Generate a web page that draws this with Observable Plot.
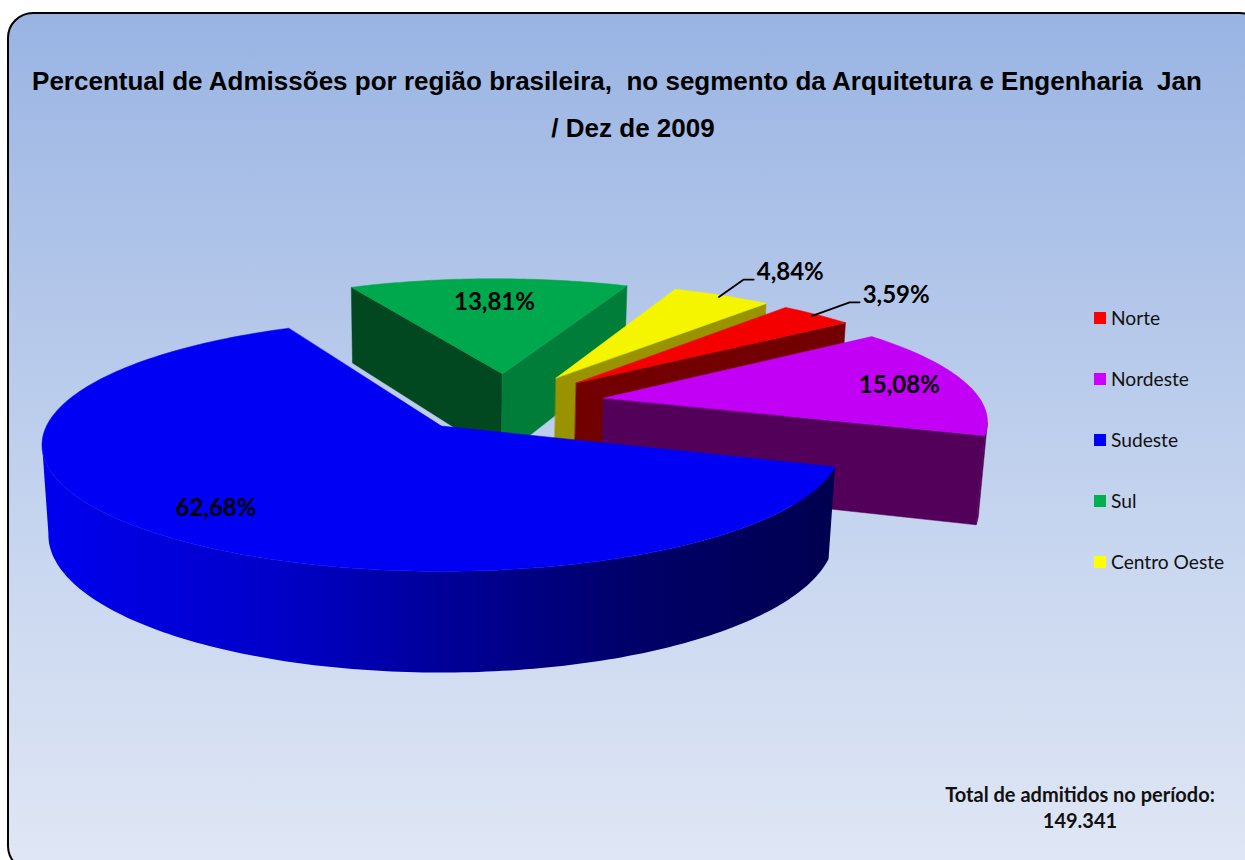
<!DOCTYPE html>
<html lang="pt">
<head>
<meta charset="utf-8">
<script src="https://cdn.jsdelivr.net/npm/d3@7"></script>
<script src="https://cdn.jsdelivr.net/npm/@observablehq/plot@0.6"></script>
<style>
  html,body{margin:0;padding:0;background:#fff;width:1245px;height:860px;overflow:hidden}
  #frame{position:absolute;left:7px;top:12px;width:1255px;height:856px;border:2px solid #000;border-radius:26px;
    background:linear-gradient(#99b4e3 0%,#adc2e8 25%,#c6d5ef 60%,#e0e7f5 100%);}
  #title{position:absolute;left:0;width:1234px;top:58px;text-align:center;font:bold 26px/47px "Liberation Sans",Arial,sans-serif;color:#000;white-space:pre}
  #title div:nth-child(2){position:relative;left:16px}
  #chart{position:absolute;left:0;top:0}
  #legend{position:absolute;left:1094px;top:287px;font:19.2px Lato,sans-serif;color:#111}
  #legend div{height:61px;display:flex;align-items:center;gap:5px}
  #legend i{display:block;width:12px;height:12px}
  #note{position:absolute;left:900px;width:360px;top:781px;text-align:center;font:bold 20px/26px Lato,sans-serif;color:#111}
</style>
</head>
<body>
<div id="frame"></div>
<div id="title"></div>
<div id="chart"></div>
<div id="legend"></div>
<div id="note"></div>
<script>
const titleLines = ["Percentual de Admissões por região brasileira,  no segmento da Arquitetura e Engenharia  Jan", "/ Dez de 2009"];
const noteLines = ["Total de admitidos no período:", "149.341"];
const categories = ["Norte", "Nordeste", "Sudeste", "Sul", "Centro Oeste"];
const shares = [3.59, 15.08, 62.68, 13.81, 4.84];
const shareLabels = ["3,59%", "15,08%", "62,68%", "13,81%", "4,84%"];
const legendColors = ["#ff0000", "#cc00ff", "#0000ff", "#00b050", "#ffff00"];
const topColors = ["#f50000", "#c200f5", "#0000f5", "#00a84d", "#f5f500"];
const startWallColors = [null, null, null, "#01471f", null];
const endWallColors = ["#730000", "#52005a", null, "#017d3a", "#999300"];
const rimColors = [null, "#52005a", "url(#blueRim)", null, null];
const labelRadius = [1.2, 0.81, 0.8, 0.74, 1.22];
const sliceRadius = [1, 0.985, 1, 1, 1];
const paintOrder = ["Sul", "Centro Oeste", "Norte", "Nordeste", "Sudeste"];

// pie projection
const firstAngle = 311.1, explode = 0.258;
const view = {cx: 441, cy: 425.5, rx: 395, ry: 123.5, p: 0.15, q: 0.016, h: 90};
const rad = d => d * Math.PI / 180;
const project = (a, b, z = 0) => {
  const w = 1 - view.p * b + view.q * z;
  return {x: view.cx + view.rx * a / w, y: view.cy + (view.ry * b + view.h * z) / w};
};

// slices in clockwise order
let acc = firstAngle;
const slices = categories.map((name, i) => {
  const start = acc, end = acc + shares[i] * 3.6; acc = end;
  return {name, i, start, end, mid: (start + end) / 2};
});
const blue = slices[2];
const base = {a: -explode * Math.cos(rad(blue.mid)), b: -explode * Math.sin(rad(blue.mid))};
slices.forEach(s => {
  s.a = base.a + explode * Math.cos(rad(s.mid));
  s.b = base.b + explode * Math.sin(rad(s.mid));
});
const arcAt = (s, t, r = 1, z = 0) => {
  const R = r * sliceRadius[s.i];
  return project(s.a + R * Math.cos(rad(t)), s.b + R * Math.sin(rad(t)), z);
};
const arcAngles = (from, to) => d3.range(from, to, 1).concat([to]);

const shape = (pts, color) => Plot.line(pts, {x: "x", y: "y", curve: "linear-closed", fill: color,
  stroke: color.startsWith("url") ? "none" : color, strokeWidth: 0.5});

const marks = [() => {
  const defs = d3.create("svg:defs");
  const g = defs.append("linearGradient").attr("id", "blueRim");
  [[0, "#0000ef"], [0.3, "#0000c8"], [0.5, "#00009a"], [0.75, "#000068"], [1, "#000050"]]
    .forEach(([o, c]) => g.append("stop").attr("offset", o).attr("stop-color", c));
  return defs.node();
}];

// the rim is visible between the silhouette tangents only (angles kept continuous past 360)
const rimVisible = s => s.name === "Nordeste" ? [372, s.end] : [s.start, Math.min(s.end, 532)];

for (const name of paintOrder) {
  const s = slices.find(d => d.name === name);
  const apex = z => project(s.a, s.b, z);
  if (rimColors[s.i]) {
    const ang = arcAngles(...rimVisible(s));
    marks.push(shape([...ang.map(t => arcAt(s, t, 1, 0)), ...ang.slice().reverse().map(t => arcAt(s, t, 1, 1))], rimColors[s.i]));
  }
  if (startWallColors[s.i]) marks.push(shape([apex(0), arcAt(s, s.start), arcAt(s, s.start, 1, 1), apex(1)], startWallColors[s.i]));
  if (endWallColors[s.i]) marks.push(shape([apex(0), arcAt(s, s.end), arcAt(s, s.end, 1, 1), apex(1)], endWallColors[s.i]));
  marks.push(shape([apex(0), ...arcAngles(s.start, s.end).map(t => arcAt(s, t))], topColors[s.i]));
}

// data labels and leader lines
const labelRows = slices.map(s => ({...arcAt(s, s.mid, labelRadius[s.i]), text: shareLabels[s.i], outer: labelRadius[s.i] > 1}));
for (const s of slices) {
  if (labelRadius[s.i] > 1) {
    const from = arcAt(s, s.mid, 0.98), to = arcAt(s, s.mid, labelRadius[s.i]);
    const knee = {x: to.x - 10, y: to.y};
    marks.push(Plot.line([from, knee, to], {x: "x", y: "y", stroke: "#000", strokeWidth: 1.8}));
  }
}
const labelStyle = {x: "x", y: "y", text: "text", fontSize: 24, fontWeight: 700, fill: "#000", fontFamily: "Lato, sans-serif"};
marks.push(Plot.text(labelRows.filter(d => !d.outer), {...labelStyle, dx: 3, dy: 1}));
marks.push(Plot.text(labelRows.filter(d => d.outer), {...labelStyle, dx: 3, dy: -7, textAnchor: "start"}));

const plot = Plot.plot({
  width: 1245, height: 860, margin: 0, axis: null,
  x: {type: "identity"}, y: {type: "identity"},
  style: {background: "transparent"},
  marks
});
document.getElementById("chart").append(plot);

document.getElementById("title").innerHTML = titleLines.map(t => `<div>${t}</div>`).join("");
document.getElementById("note").innerHTML = noteLines.join("<br>");
document.getElementById("legend").innerHTML = categories.map((c, i) => `<div><i style="background:${legendColors[i]}"></i>${c}</div>`).join("");
</script>
</body>
</html>
